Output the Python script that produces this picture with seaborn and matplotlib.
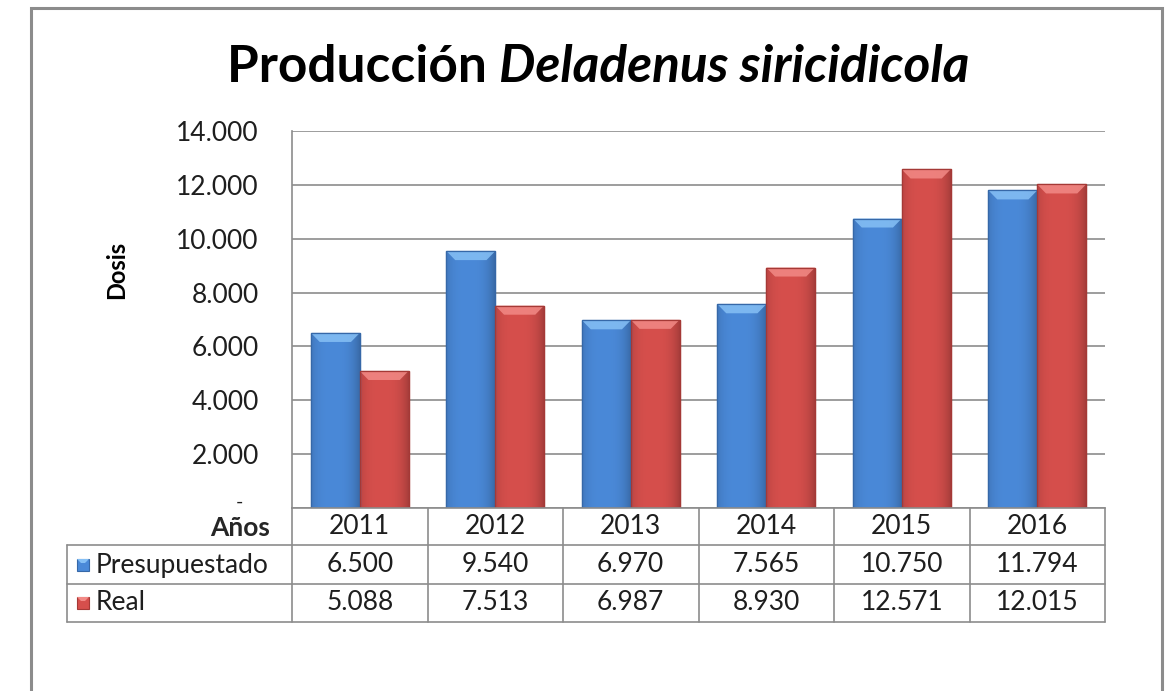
import matplotlib
matplotlib.use("Agg")
import matplotlib.pyplot as plt
import seaborn as sns
import pandas as pd
import numpy as np
from matplotlib.lines import Line2D
from matplotlib.patches import Rectangle, Polygon
from matplotlib import transforms
from matplotlib.colors import to_rgb

years = ["2011", "2012", "2013", "2014", "2015", "2016"]
presupuestado = [6500, 9540, 6970, 7565, 10750, 11794]
real = [5088, 7513, 6987, 8930, 12571, 12015]
series_names = ["Presupuestado", "Real"]
yticks = [0, 2000, 4000, 6000, 8000, 10000, 12000, 14000]

sns.set_theme(style="white")
plt.rcParams['font.family'] = ['Lato', 'DejaVu Sans']

W, H = 1174, 691
fig = plt.figure(figsize=(W / 100, H / 100), dpi=100)

def fx(px):
    return px / W

def fy(py):
    return 1 - py / H

blue = "#4A89D8"
red = "#D64F4C"
blue_edge = "#3668A8"
red_edge = "#A53936"
blue_light = "#86C0F5"
red_light = "#F28A86"
gray = "#8C8C8C"
txt = "#1E1E1E"

# outer border
fig.add_artist(Rectangle((fx(31), fy(705)), fx(1162) - fx(31), fy(8) - fy(705),
                         transform=fig.transFigure, fill=False, edgecolor=gray, lw=2.2))

L, R, T, B = 292, 1105, 131, 508
ax = fig.add_axes([fx(L), fy(B), fx(R) - fx(L), fy(T) - fy(B)])

df = pd.DataFrame({
    "year": years * 2,
    "serie": [series_names[0]] * len(years) + [series_names[1]] * len(years),
    "value": presupuestado + real,
})
sns.barplot(data=df, x="year", y="value", hue="serie", palette=[blue, red],
            width=0.72, ax=ax, legend=False, saturation=1)

ax.set_xlim(-0.5, 5.5)
ax.set_ylim(0, 14000)

px_y = 14000 / (B - T)  # data units per pixel vertical
for i, p in list(enumerate(ax.patches)):
    is_blue = i < len(years)
    base = np.array(to_rgb(blue if is_blue else red))
    edge = blue_edge if is_blue else red_edge
    light = np.array(to_rgb(blue_light if is_blue else red_light))
    dark = base * 0.78
    x0, w, h = p.get_x(), p.get_width(), p.get_height()
    p.set_edgecolor(edge)
    p.set_linewidth(0.9)
    t = np.linspace(0, 1, 64)
    prof = 1 - np.clip(np.abs(t - 0.45) / 0.55, 0, 1) ** 3
    cols = dark[None, :] + (base - dark)[None, :] * prof[:, None]
    img = cols[None, :, :]
    im = ax.imshow(img, extent=[x0, x0 + w, 0, h], aspect="auto",
                   zorder=p.get_zorder() + 0.1, interpolation="bilinear")
    im.set_clip_path(p)
    bh = 9 * px_y
    bw = w * 0.18
    ax.add_patch(Polygon([[x0, h], [x0 + w, h], [x0 + w - bw, h - bh], [x0 + bw, h - bh]],
                         closed=True, facecolor=light, edgecolor="none", alpha=0.85,
                         zorder=p.get_zorder() + 0.2))
    ax.add_patch(Rectangle((x0, 0), w, h, facecolor="none", edgecolor=edge, lw=0.9,
                           zorder=p.get_zorder() + 0.3))

ax.set_xlim(-0.5, 5.5)
ax.set_ylim(0, 14000)
ax.set_yticks(yticks)
ax.set_yticklabels([""] + [f"{v:,}".replace(",", ".") for v in yticks[1:]], fontsize=19, color=txt)
ax.tick_params(axis="y", length=0, pad=24)
ax.set_xticks([])
ax.set_xlabel("")
ax.set_ylabel("")
ax.yaxis.grid(True, color=gray, lw=1.2)
ax.set_axisbelow(True)
for s in ["top", "right"]:
    ax.spines[s].set_visible(False)
for s in ["left", "bottom"]:
    ax.spines[s].set_color(gray)
    ax.spines[s].set_linewidth(1.2)

# zero label shown as a dash (accounting format)
fig.text(fx(239), fy(502), "-", ha="center", va="center", fontsize=14, color=txt)

fig.text(fx(117), fy(270), "Dosis", rotation=90, ha="center", va="center",
         fontsize=17, fontweight="bold", color="black")

# Title in two parts (bold + bold italic), centred together
fig.canvas.draw()
renderer = fig.canvas.get_renderer()
t1 = fig.text(0, fy(68), "Producción ", ha="left", va="center", fontsize=37,
              fontweight="bold", color="black")
t2 = fig.text(0, fy(68), "Deladenus siricidicola", ha="left", va="center", fontsize=37,
              fontweight="bold", fontstyle="italic", color="black")
w1 = t1.get_window_extent(renderer).width
w2 = t2.get_window_extent(renderer).width
cx = 598
start = cx - (w1 + w2) / 2
t1.set_x(fx(start))
t2.set_x(fx(start + w1))

# Data table
line_kw = dict(color=gray, lw=1.2, transform=fig.transFigure)
col_edges = np.linspace(L, R, len(years) + 1)
row_y = [508, 545, 584, 622]
for xe in col_edges:
    fig.add_artist(Line2D([fx(xe), fx(xe)], [fy(508), fy(622)], **line_kw))
fig.add_artist(Line2D([fx(67), fx(67)], [fy(545), fy(622)], **line_kw))
for yy in row_y[1:]:
    fig.add_artist(Line2D([fx(67), fx(R)], [fy(yy), fy(yy)], **line_kw))

blend = transforms.blended_transform_factory(ax.transData, fig.transFigure)
fig.text(fx(270), fy(528), "Años", ha="right", va="center", fontsize=19, fontweight="bold")
for i, yr in enumerate(years):
    ax.text(i, fy(527), yr, transform=blend, ha="center", va="center", fontsize=19, color=txt)
    ax.text(i, fy(565), f"{presupuestado[i]:,}".replace(",", "."), transform=blend,
            ha="center", va="center", fontsize=19, color=txt)
    ax.text(i, fy(603), f"{real[i]:,}".replace(",", "."), transform=blend,
            ha="center", va="center", fontsize=19, color=txt)

for ry, name, c, ec, lc in [(565, series_names[0], blue, blue_edge, blue_light),
                            (603, series_names[1], red, red_edge, red_light)]:
    fig.add_artist(Rectangle((fx(77), fy(ry + 6)), fx(12), fy(0) - fy(12),
                             transform=fig.transFigure, facecolor=c, edgecolor=ec, lw=0.8))
    fig.add_artist(Polygon([[fx(77), fy(ry - 6)], [fx(89), fy(ry - 6)], [fx(85), fy(ry - 2)], [fx(81), fy(ry - 2)]],
                           closed=True, transform=fig.transFigure, facecolor=lc, edgecolor="none"))
    fig.text(fx(96), fy(ry), name, ha="left", va="center", fontsize=19, color=txt)

fig.savefig("out.png", dpi=100)
